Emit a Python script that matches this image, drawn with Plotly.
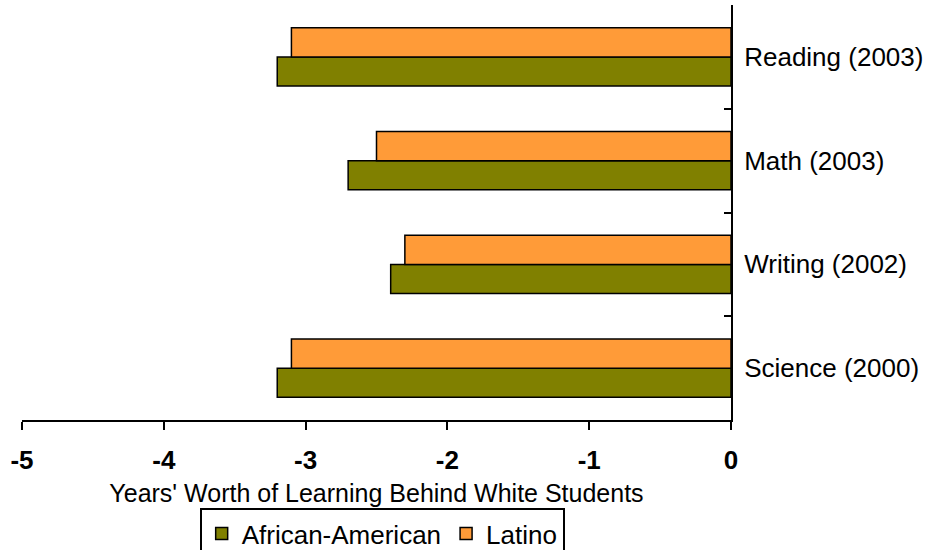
import plotly.graph_objects as go

categories = ["Science (2000)", "Writing (2002)", "Math (2003)", "Reading (2003)"]
african_american = [-3.2, -2.4, -2.7, -3.2]
latino = [-3.1, -2.3, -2.5, -3.1]
x_tick_vals = [-5, -4, -3, -2, -1, 0]
x_tick_text = ["-5", "-4", "-3", "-2", "-1", "0"]

FONT = "Liberation Sans, Arial, sans-serif"

fig = go.Figure()
fig.add_trace(go.Bar(
    y=categories, x=african_american, orientation="h", name="African-American",
    marker=dict(color="#808000", line=dict(color="black", width=1.5)),
))
fig.add_trace(go.Bar(
    y=categories, x=latino, orientation="h", name="Latino",
    marker=dict(color="#FF9B38", line=dict(color="black", width=1.5)),
))

fig.update_layout(
    width=932, height=550,
    margin=dict(l=22, r=201, t=5, b=130, autoexpand=False),
    paper_bgcolor="white", plot_bgcolor="white",
    font=dict(family=FONT, size=26, color="black"),
    barmode="group", bargap=0.44, bargroupgap=0,
    showlegend=True,
    legend=dict(
        orientation="h", x=0.508, xanchor="center", y=-0.212, yanchor="top",
        bordercolor="black", borderwidth=2, font=dict(size=26),
        traceorder="normal", itemwidth=30, tracegroupgap=0,
    ),
)
fig.update_xaxes(
    range=[-5, 0], tickvals=x_tick_vals, ticktext=x_tick_text,
    showline=True, linecolor="black", linewidth=2,
    ticks="outside", ticklen=8, tickwidth=2, tickcolor="black",
    showgrid=False, zeroline=False,
    tickfont=dict(size=26, family=FONT, weight="bold"), ticklabelstandoff=8,
    title=dict(text="Years' Worth of Learning Behind White Students",
               font=dict(size=25), standoff=10),
)
fig.update_yaxes(
    side="right", showline=True, linecolor="black", linewidth=2,
    ticks="inside", ticklen=7, tickwidth=2, tickcolor="black",
    tickson="boundaries", showgrid=False, zeroline=False,
    tickfont=dict(size=26), ticklabelstandoff=6,
)

fig.write_html("out.html")
